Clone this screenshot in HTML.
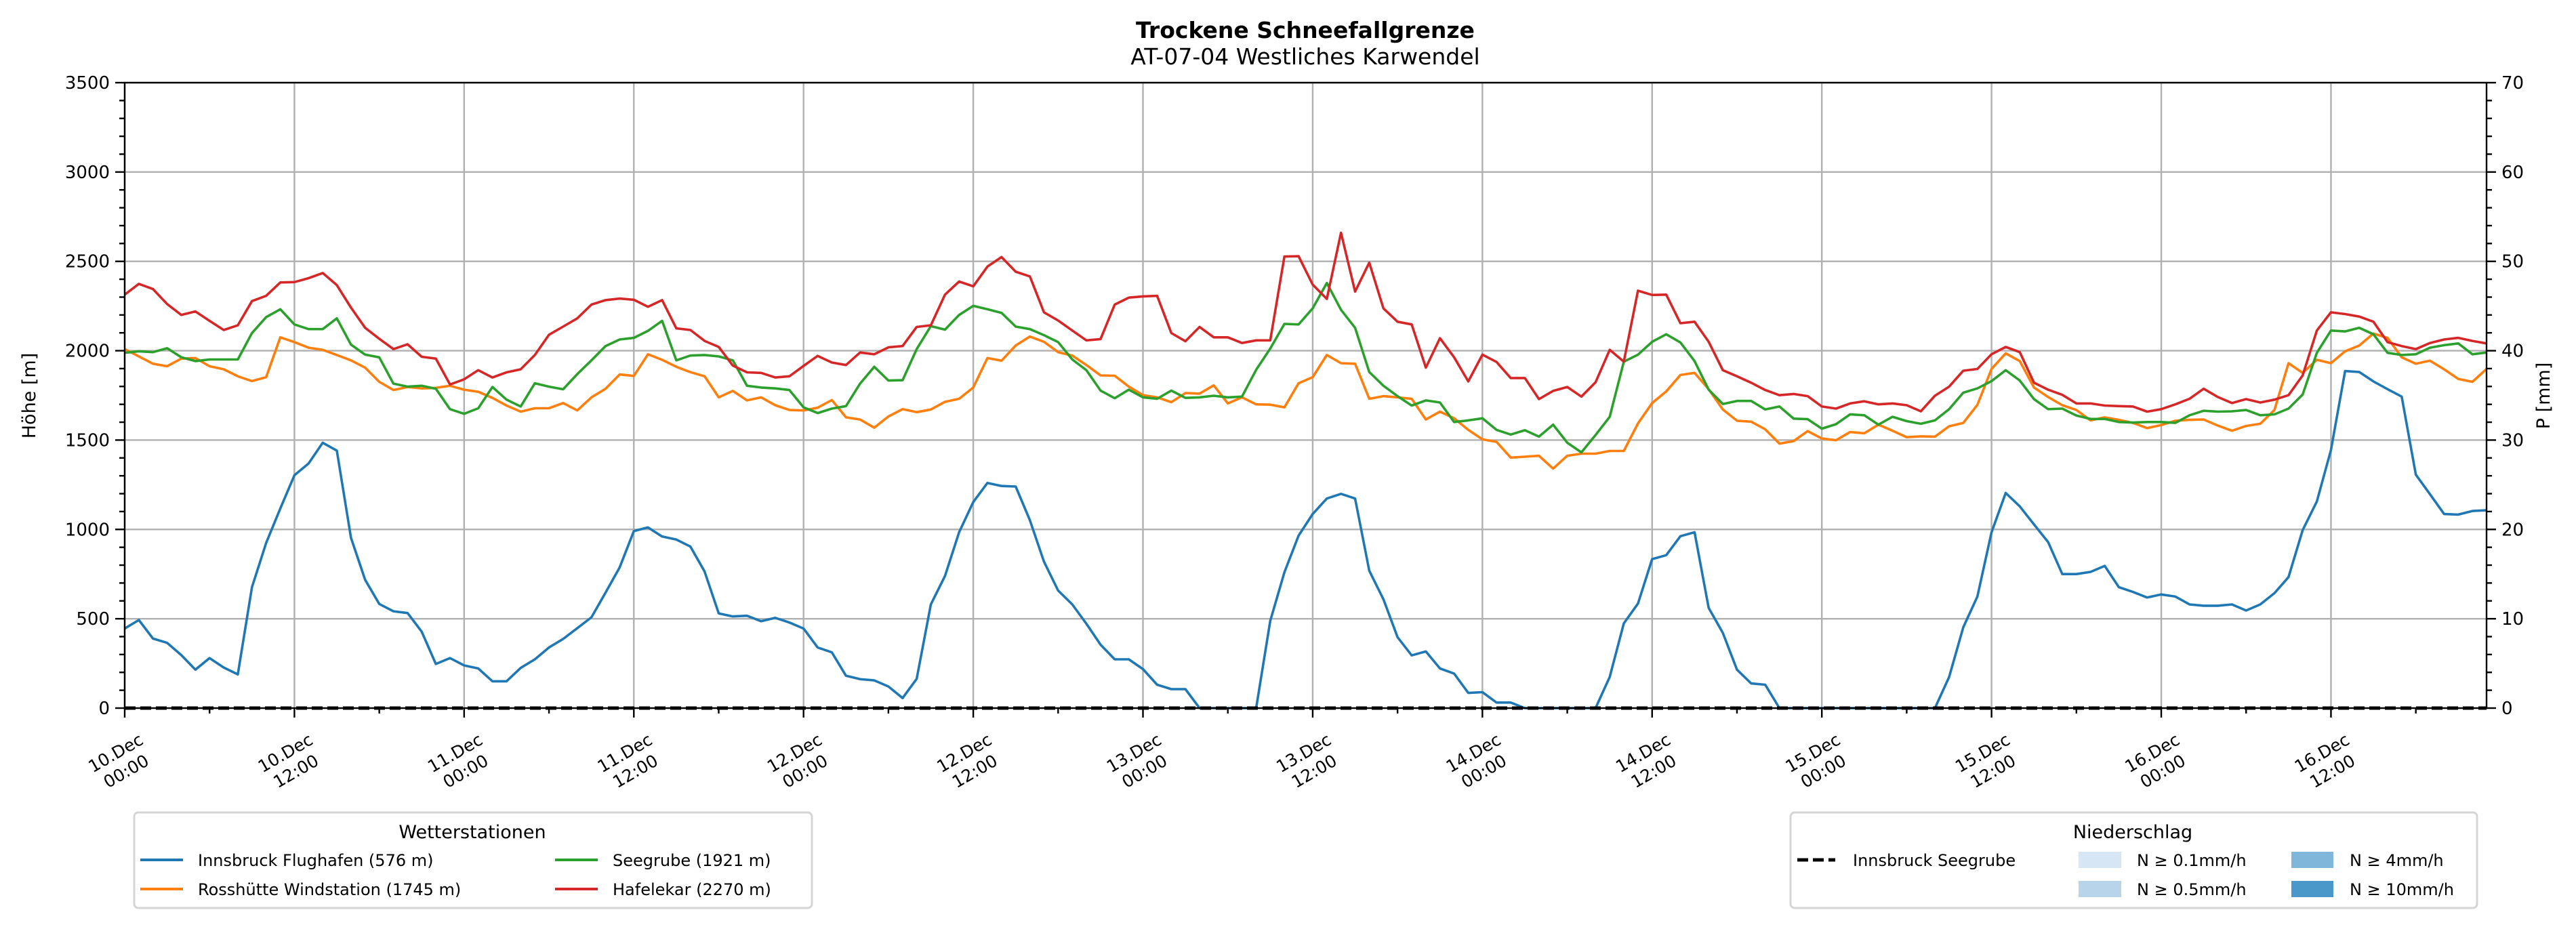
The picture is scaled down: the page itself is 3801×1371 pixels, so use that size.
<!DOCTYPE html>
<html><head><meta charset="utf-8">
<style>
html,body{margin:0;padding:0;background:#fff;}
svg{display:block;font-family:"DejaVu Sans","Liberation Sans",sans-serif;}
</style></head>
<body>
<svg id="chart" width="3801" height="1371" viewBox="0 0 3801 1371" xmlns="http://www.w3.org/2000/svg">
<rect x="0" y="0" width="3801" height="1371" fill="#fff"/>
<text x="1926" y="56" text-anchor="middle" font-size="33" font-weight="bold">Trockene Schneefallgrenze</text>
<text x="1926" y="95" text-anchor="middle" font-size="33">AT-07-04 Westliches Karwendel</text>
<g id="grid"></g>
<g id="series"></g>
<g id="axes"></g>
<text transform="translate(52,584) rotate(-90)" text-anchor="middle" font-size="27">Höhe [m]</text>
<text transform="translate(3762,584) rotate(-90)" text-anchor="middle" font-size="27">P [mm]</text>

<g>
<rect x="198" y="1199" width="1000" height="141" rx="6" fill="#fff" stroke="#d5d5d5" stroke-width="3"/>
<text x="697" y="1237" text-anchor="middle" font-size="27">Wetterstationen</text>
<g><line x1="207" y1="1269" x2="270" y2="1269" stroke="#1f77b4" stroke-width="4"/><text x="292" y="1278" font-size="24">Innsbruck Flughafen (576 m)</text></g>
<g><line x1="207" y1="1312" x2="270" y2="1312" stroke="#ff7f0e" stroke-width="4"/><text x="292" y="1321" font-size="24">Rosshütte Windstation (1745 m)</text></g>
<g><line x1="819" y1="1269" x2="882" y2="1269" stroke="#2ca02c" stroke-width="4"/><text x="904" y="1278" font-size="24">Seegrube (1921 m)</text></g>
<g><line x1="819" y1="1312" x2="882" y2="1312" stroke="#d62728" stroke-width="4"/><text x="904" y="1321" font-size="24">Hafelekar (2270 m)</text></g>
</g>

<g>
<rect x="2642" y="1199" width="1013" height="141" rx="6" fill="#fff" stroke="#d5d5d5" stroke-width="3"/>
<text x="3147" y="1237" text-anchor="middle" font-size="27">Niederschlag</text>
<g><line x1="2652" y1="1269" x2="2708" y2="1269" stroke="#000" stroke-width="5" stroke-dasharray="16,7"/><text x="2734" y="1278" font-size="24">Innsbruck Seegrube</text></g>
<g><rect x="3067" y="1257" width="63" height="24" fill="#d6e6f4"/><text x="3153" y="1278" font-size="24">N ≥ 0.1mm/h</text></g>
<g><rect x="3067" y="1300" width="63" height="24" fill="#b8d4ea"/><text x="3153" y="1321" font-size="24">N ≥ 0.5mm/h</text></g>
<g><rect x="3381" y="1257" width="62" height="24" fill="#80b6da"/><text x="3467" y="1278" font-size="24">N ≥ 4mm/h</text></g>
<g><rect x="3381" y="1300" width="62" height="24" fill="#4a98c9"/><text x="3467" y="1321" font-size="24">N ≥ 10mm/h</text></g>
</g>
</svg>
<script>
const hoursStart = 0;
const hourLabels = ["10.Dec\n00:00","10.Dec\n12:00","11.Dec\n00:00","11.Dec\n12:00","12.Dec\n00:00","12.Dec\n12:00","13.Dec\n00:00","13.Dec\n12:00","14.Dec\n00:00","14.Dec\n12:00","15.Dec\n00:00","15.Dec\n12:00","16.Dec\n00:00","16.Dec\n12:00"];
const yTicks = [0,500,1000,1500,2000,2500,3000,3500];
const y2Ticks = [0,10,20,30,40,50,60,70];
const innsbruck = [445,493,389,365,297,215,280,227,189,677,924,1117,1303,1369,1485,1441,953,718,583,542,532,428,247,280,239,222,150,150,225,273,339,387,447,508,646,788,991,1011,960,943,904,765,
530,513,517,486,505,479,445,339,312,181,162,155,121,56,164,580,740,984,1153,1260,1243,1240,1052,820,658,580,472,355,273,273,218,131,106,106,0,0,0,0,0,488,760,
965,1086,1173,1199,1173,769,609,397,295,317,222,193,85,89,31,31,0,0,0,0,0,0,174,474,585,834,856,962,984,561,421,215,138,131,
0,0,0,0,0,0,0,0,0,0,0,0,
174,452,624,984,1204,1129,1028,929,750,750,762,796,677,650,619,636,624,580,573,573,580,546,580,643,733,996,1156,1444,1886,1881,1828,1785,1743,1306,1197,1086,1083,1103,1107];
const rosshuette = [2009,1968,1927,1913,1956,1959,1913,1896,1857,1830,1852,2075,2048,2017,2005,1976,1946,1905,1826,1780,1797,1789,1792,1804,1782,1770,1736,1693,1659,1678,1678,1707,1666,1739,1787,1867,1859,1980,1949,1910,1880,1857,
1739,1775,1722,1739,1695,1668,1666,1681,1724,1627,1615,1569,1632,1673,1656,1671,1714,1731,1794,1959,1944,2029,2079,2050,1992,1973,1920,1862,1860,1799,1751,1739,1712,1763,1760,1806,1705,1739,1700,1698,1683,
1818,1852,1976,1930,1927,1731,1746,1739,1731,1615,1659,1622,1557,1504,1490,1402,1407,1412,1340,1412,1424,1424,1439,1439,1593,1707,1772,1864,1876,1785,1671,1608,1603,1560,1480,1494,1550,1509,1499,1545,1538,
1586,1552,1516,1521,1519,1577,1596,1697,1898,1985,1942,1794,1741,1695,1668,1610,1627,1613,1596,1567,1584,1608,1613,1615,1581,1552,1579,1591,1668,1930,1876,1949,1930,1997,2029,2096,2072,1963,1927,1944,1896,1842,1826,1898];
const seegrube = [1988,1997,1992,2014,1963,1942,1951,1951,1951,2099,2188,2232,2147,2121,2121,2181,2034,1978,1963,1816,1799,1804,1787,1673,1647,1678,1797,1726,1688,1818,1799,1784,1869,1946,2026,2063,2072,2111,2167,1946,1973,1976,
1968,1946,1804,1794,1789,1780,1683,1651,1676,1690,1816,1910,1833,1835,2009,2138,2118,2200,2251,2232,2212,2135,2121,2087,2048,1951,1891,1777,1734,1782,1739,1731,1777,1736,1739,1748,1739,1743,1893,2012,2150,
2147,2237,2379,2229,2128,1881,1804,1746,1693,1722,1710,1601,1610,1622,1557,1531,1555,1519,1586,1485,1431,1528,1630,1939,1978,2050,2092,2046,1942,1782,1702,1719,1719,1671,1688,1620,1617,1564,1589,1644,1639,
1586,1630,1606,1591,1610,1673,1765,1789,1830,1891,1833,1729,1673,1676,1637,1618,1618,1601,1598,1601,1601,1596,1639,1664,1659,1661,1668,1639,1644,1676,1755,1988,2113,2108,2128,2092,1988,1976,1980,2017,2031,2041,1980,1990];
const hafelekar = [2314,2374,2345,2261,2200,2220,2167,2116,2142,2278,2307,2382,2384,2406,2435,2367,2241,2128,2067,2009,2036,1966,1956,1811,1840,1891,1850,1879,1896,1976,2089,2135,2181,2258,2283,2292,2285,2246,2283,2125,2116,2055,
2021,1917,1879,1876,1850,1857,1915,1971,1934,1920,1990,1980,2019,2026,2133,2142,2314,2387,2360,2471,2524,2442,2416,2215,2169,2113,2058,2065,2258,2297,2304,2307,2099,2053,2133,2075,2075,2043,2058,2058,2527,
2529,2370,2290,2660,2331,2493,2237,2162,2147,1905,2070,1963,1828,1978,1937,1847,1847,1729,1775,1797,1743,1823,2005,1939,2336,2312,2314,2154,2162,2050,1891,1857,1821,1780,1751,1758,1746,1688,1676,1705,1717,
1700,1705,1695,1661,1748,1799,1888,1898,1980,2021,1992,1821,1782,1753,1705,1705,1693,1690,1688,1659,1673,1700,1731,1787,1741,1707,1729,1710,1726,1751,1862,2113,2215,2205,2191,2162,2048,2026,2009,2043,2063,2072,2055,2041];
const precipSeegrube = [0,0,0,0,0,0,0,0,0,0,0,0,0,0,0,0,0,0,0,0,0,0,0,0,0,0,0,0,0,0,0,0,0,0,0,0,0,0,0,0,0,0,0,0,0,0,0,0,0,0,0,0,0,0,0,0,0,0,0,0,0,0,0,0,0,0,0,0,0,0,0,0,0,0,0,0,0,0,0,0,0,0,0,0,0,0,0,0,0,0,0,0,0,0,0,0,0,0,0,0,0,0,0,0,0,0,0,0,0,0,0,0,0,0,0,0,0,0,0,0,0,0,0,0,0,0,0,0,0,0,0,0,0,0,0,0,0,0,0,0,0,0,0,0,0,0,0,0,0,0,0,0,0,0,0,0,0,0,0,0,0,0,0,0,0,0,0,0];

const NS = "http://www.w3.org/2000/svg";
const L = 184, R = 3669, T = 122, B = 1045;
const hMax = innsbruck.length - 1;
function xs(h){ return L + (h - hoursStart) * (R - L) / hMax; }
function ys(v){ return B - v * (B - T) / 3500; }
function ys2(p){ return B - p * (B - T) / 70; }
function mk(tag, attrs, parent){ const e = document.createElementNS(NS, tag); for (const k in attrs) e.setAttribute(k, attrs[k]); parent.appendChild(e); return e; }

const grid = document.getElementById('grid');
const axes = document.getElementById('axes');
const seriesG = document.getElementById('series');

yTicks.forEach(v => {
  const g = mk('line', {x1:L, x2:R, y1:ys(v), y2:ys(v), stroke:'#b0b0b0', 'stroke-width':2.4}, grid);
  
  
});
hourLabels.forEach((lab, i) => {
  const x = xs(i * 12);
  const g = mk('line', {x1:x, x2:x, y1:T, y2:B, stroke:'#b0b0b0', 'stroke-width':2.4}, grid);
  
  
});

function drawLine(data, color, name){
  const d = data.map((v, i) => (i ? 'L' : 'M') + xs(i).toFixed(1) + ',' + ys(v).toFixed(1)).join('');
  const p = mk('path', {d:d, fill:'none', stroke:color, 'stroke-width':3.6, 'stroke-linejoin':'round'}, seriesG);
  
  
}
drawLine(innsbruck, '#1f77b4', 'line-innsbruck-flughafen');
drawLine(rosshuette, '#ff7f0e', 'line-rosshuette');
drawLine(seegrube, '#2ca02c', 'line-seegrube');
drawLine(hafelekar, '#d62728', 'line-hafelekar');
{
  const d = precipSeegrube.map((v, i) => (i ? 'L' : 'M') + xs(i).toFixed(1) + ',' + ys2(v).toFixed(1)).join('');
  const p = mk('path', {d:d, fill:'none', stroke:'#000', 'stroke-width':5, 'stroke-dasharray':'16,7'}, seriesG);
  
  
}

const fr = mk('rect', {x:L, y:T, width:R-L, height:B-T, fill:'none', stroke:'#000', 'stroke-width':2.4}, axes);



for (let v = 0; v <= 3500; v += 100) {
  const major = v % 500 === 0;
  const t = mk('line', {x1:L, x2:L-(major?14:8), y1:ys(v), y2:ys(v), stroke:'#000', 'stroke-width':2.4}, axes);
  
  
}
yTicks.forEach(v => {
  const t = mk('text', {x:L-22, y:ys(v)+9, 'text-anchor':'end', 'font-size':26}, axes);
  t.textContent = v;
  
  
});
for (let p = 0; p <= 70; p += 2) {
  const major = p % 10 === 0;
  const t = mk('line', {x1:R, x2:R+(major?14:8), y1:ys2(p), y2:ys2(p), stroke:'#000', 'stroke-width':2.4}, axes);
  
  
}
y2Ticks.forEach(p => {
  const t = mk('text', {x:R+22, y:ys2(p)+9, 'text-anchor':'start', 'font-size':26}, axes);
  t.textContent = p;
  
  
});
for (let h = 0; h <= hMax; h += 6) {
  const major = h % 12 === 0;
  const t = mk('line', {x1:xs(h), x2:xs(h), y1:B, y2:B+(major?14:8), stroke:'#000', 'stroke-width':2.4}, axes);
  
  
}
hourLabels.forEach((lab, i) => {
  const x = xs(i * 12);
  const g = mk('g', {transform:'translate(' + (x - 6) + ',1124) rotate(-30)'}, axes);
  
  
  const parts = lab.split('\n');
  parts.forEach((s, j) => {
    const t = mk('text', {x:0, y:(j === 0 ? -6 : 25), 'text-anchor':'middle', 'font-size':25}, g);
    t.textContent = s;
  });
});
</script>
</body></html>
